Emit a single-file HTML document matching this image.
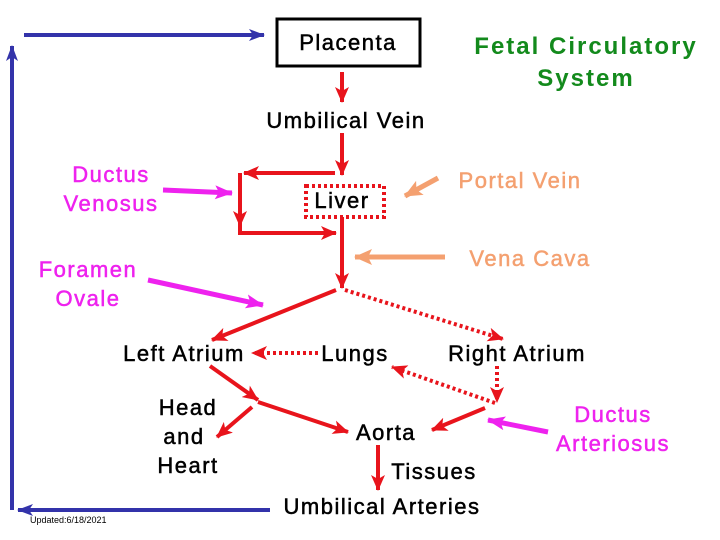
<!DOCTYPE html>
<html><head><meta charset="utf-8"><style>body{margin:0;background:#fff}svg{display:block}text{font-family:"Liberation Sans",Arial,sans-serif}</style></head><body>
<svg width="720" height="540" viewBox="0 0 720 540" xmlns="http://www.w3.org/2000/svg">
<defs>
<marker id="rb" markerWidth="16" markerHeight="14" refX="15" refY="7" orient="auto" markerUnits="userSpaceOnUse"><path d="M0,0 L16,7 L0,14 L4,7z" fill="#e8141c"/></marker>
<marker id="b" markerWidth="16" markerHeight="12" refX="15" refY="6" orient="auto" markerUnits="userSpaceOnUse"><path d="M0,0 L16,6 L0,12 L4,6z" fill="#3333aa"/></marker>
<marker id="p" markerWidth="18" markerHeight="14" refX="17" refY="7" orient="auto" markerUnits="userSpaceOnUse"><path d="M0,0 L18,7 L0,14 L4,7z" fill="#ee22ee"/></marker>
<marker id="o" markerWidth="18" markerHeight="16" refX="17" refY="8" orient="auto" markerUnits="userSpaceOnUse"><path d="M0,0 L18,8 L0,16 L4,8z" fill="#f4a070"/></marker>
</defs>
<g stroke="#3333aa" stroke-width="4" fill="none">
<line x1="24" y1="35" x2="264" y2="35" marker-end="url(#b)"/>
<line x1="12" y1="510" x2="12" y2="46" marker-end="url(#b)"/>
<line x1="270" y1="510" x2="18" y2="510" marker-end="url(#b)"/>
</g>
<rect x="277" y="19" width="143" height="47" fill="none" stroke="#000" stroke-width="3"/>
<g stroke="#e8141c" stroke-width="4" fill="none">
<line x1="342" y1="72" x2="342" y2="102" marker-end="url(#rb)"/>
<line x1="342" y1="133" x2="342" y2="175" marker-end="url(#rb)"/>
<polyline points="335,173 244,173" marker-end="url(#rb)"/>
<polyline points="240,173 240,233 336,233" marker-end="url(#rb)"/>
<line x1="240" y1="180" x2="240" y2="226" marker-end="url(#rb)"/>
<line x1="342" y1="217" x2="342" y2="288" marker-end="url(#rb)"/>
<line x1="336" y1="290" x2="212" y2="340" marker-end="url(#rb)"/>
<line x1="210" y1="366" x2="258" y2="400" marker-end="url(#rb)"/>
<line x1="258" y1="402" x2="348" y2="432" marker-end="url(#rb)"/>
<line x1="252" y1="407" x2="217" y2="437" marker-end="url(#rb)"/>
<line x1="485" y1="408" x2="432" y2="430" marker-end="url(#rb)"/>
<line x1="378" y1="445" x2="378" y2="490" marker-end="url(#rb)"/>
</g>
<g stroke="#e8141c" stroke-width="4" fill="none" stroke-dasharray="3,3">
<rect x="306" y="186" width="78" height="31"/>
<line x1="345" y1="290" x2="503" y2="339" marker-end="url(#rb)"/>
<line x1="318" y1="353" x2="252" y2="353" marker-end="url(#rb)"/>
<line x1="497" y1="366" x2="497" y2="402" marker-end="url(#rb)"/>
<line x1="495" y1="403" x2="392" y2="367" marker-end="url(#rb)"/>
</g>
<g stroke="#ee22ee" stroke-width="5" fill="none">
<line x1="163" y1="190" x2="232" y2="193" marker-end="url(#p)"/>
<line x1="148" y1="280" x2="263" y2="305" marker-end="url(#p)"/>
<line x1="548" y1="432" x2="488" y2="420" marker-end="url(#p)"/>
</g>
<g stroke="#f4a070" stroke-width="5" fill="none">
<line x1="438" y1="178" x2="405" y2="196" marker-end="url(#o)"/>
<line x1="445" y1="257" x2="355" y2="257" marker-end="url(#o)"/>
</g>
<g font-size="22" fill="#000" text-anchor="middle" letter-spacing="1.5" stroke="#000" stroke-width="0.5">
<text x="348" y="50">Placenta</text>
<text x="346" y="128">Umbilical Vein</text>
<text x="342" y="208">Liver</text>
<text x="184" y="361">Left Atrium</text>
<text x="355" y="361">Lungs</text>
<text x="517" y="361">Right Atrium</text>
<text x="188" y="415">Head</text>
<text x="184" y="444">and</text>
<text x="188" y="473">Heart</text>
<text x="386" y="440">Aorta</text>
<text x="434" y="479">Tissues</text>
<text x="382" y="514">Umbilical Arteries</text>
</g>
<g font-size="24" font-weight="bold" fill="#138a1c" text-anchor="middle" letter-spacing="2">
<text x="586" y="54">Fetal Circulatory</text>
<text x="586" y="86">System</text>
</g>
<g font-size="22" fill="#ee22ee" text-anchor="middle" letter-spacing="1.5" stroke="#ee22ee" stroke-width="0.5">
<text x="111" y="182">Ductus</text>
<text x="111" y="211">Venosus</text>
<text x="88" y="277">Foramen</text>
<text x="88" y="306">Ovale</text>
<text x="613" y="422">Ductus</text>
<text x="613" y="451">Arteriosus</text>
</g>
<g font-size="22" fill="#f4a070" text-anchor="middle" letter-spacing="1.5" stroke="#f4a070" stroke-width="0.5">
<text x="520" y="188">Portal Vein</text>
<text x="530" y="266">Vena Cava</text>
</g>
<text x="30" y="523" font-size="9" fill="#000">Updated:6/18/2021</text>
</svg>
</body></html>
